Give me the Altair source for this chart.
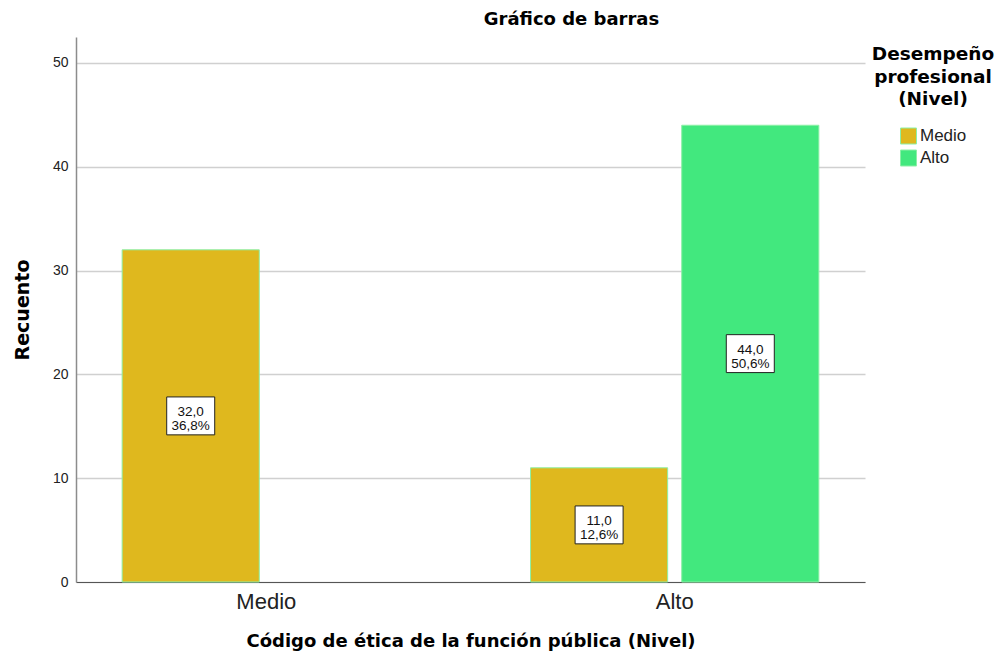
import altair as alt
import pandas as pd

# Data
codigo = ["Medio", "Alto", "Alto"]          # Código de ética de la función pública (Nivel)
desempeno = ["Medio", "Medio", "Alto"]      # Desempeño profesional (Nivel)
recuento = [32, 11, 44]
porcentaje = [36.8, 12.6, 50.6]
niveles = ["Medio", "Alto"]
colores = ["#dfb81e", "#42e87e"]
y_ticks = [0, 10, 20, 30, 40, 50]

etiquetas = [
    f"{r:.1f}".replace(".", ",") + "\n" + f"{p:.1f}".replace(".", ",") + "%"
    for r, p in zip(recuento, porcentaje)
]

df = pd.DataFrame({
    "codigo": codigo,
    "desempeno": desempeno,
    "recuento": recuento,
    "etiqueta": etiquetas,
})

BOLD = "DejaVu Sans"
REG = "Liberation Sans"

x_enc = alt.X(
    "codigo:N",
    sort=niveles,
    scale=alt.Scale(domain=niveles, paddingInner=0.294, paddingOuter=0.113),
    axis=alt.Axis(
        title="Código de ética de la función pública (Nivel)",
        labelAngle=0,
        ticks=False,
        domainColor="#555555",
        domainWidth=1,
        labelFont=REG,
        labelFontSize=22,
        labelColor="#222222",
        labelPadding=9,
        titleFont=BOLD,
        titleFontSize=18,
        titleFontWeight="bold",
        titleColor="#000000",
        titlePadding=20,
    ),
)
xo_enc = alt.XOffset(
    "desempeno:N",
    sort=niveles,
    scale=alt.Scale(domain=niveles, paddingInner=0.093, paddingOuter=0),
)

y_scale = alt.Scale(domain=[0, 52.5], nice=False)

bars = alt.Chart(df).mark_bar(stroke="#8cf0a6", strokeWidth=1).encode(
    x=x_enc,
    xOffset=xo_enc,
    y=alt.Y(
        "recuento:Q",
        scale=y_scale,
        axis=alt.Axis(
            title="Recuento",
            values=y_ticks,
            format="d",
            grid=True,
            gridColor="#d0d0d0",
            gridWidth=1.5,
            ticks=False,
            domainColor="#8c8c8c",
            domainWidth=1.5,
            labelFont=REG,
            labelFontSize=14,
            labelColor="#222222",
            labelPadding=8,
            titleFont=BOLD,
            titleFontSize=19,
            titleFontWeight="bold",
            titleColor="#000000",
            titlePadding=20,
        ),
    ),
    color=alt.Color(
        "desempeno:N",
        scale=alt.Scale(domain=niveles, range=colores),
        legend=alt.Legend(
            title=["Desempeño", "profesional", "(Nivel)"],
            orient="none",
            legendX=796,
            legendY=8,
            padding=0,
            titleFont=BOLD,
            titleFontSize=18.5,
            titleFontWeight="bold",
            titleColor="#000000",
            titleAlign="center",
            titleAnchor="middle",
            titleLineHeight=22.5,
            titlePadding=19,
            symbolType="square",
            symbolSize=256,
            symbolStrokeColor="#8cf0a6",
            symbolStrokeWidth=1,
            symbolOffset=0,
            labelFont=REG,
            labelFontSize=17,
            labelColor="#222222",
            labelOffset=3,
            rowPadding=1,
        ),
    ),
)

boxes = alt.Chart(df).transform_calculate(
    mid="datum.recuento / 2"
).mark_point(
    shape="M-1,-0.79L1,-0.79L1,0.79L-1,0.79Z",
    size=2304,
    filled=True,
    fill="white",
    stroke="#222222",
    strokeWidth=1,
    opacity=1,
).encode(
    x=alt.X("codigo:N", sort=niveles),
    xOffset=alt.XOffset("desempeno:N", sort=niveles),
    y=alt.Y("mid:Q", scale=y_scale),
)

texts = alt.Chart(df).transform_calculate(
    mid="datum.recuento / 2"
).mark_text(
    lineBreak="\n",
    font=REG,
    fontSize=13.5,
    lineHeight=14,
    baseline="middle",
    align="center",
    dy=-4,
    color="#111111",
).encode(
    x=alt.X("codigo:N", sort=niveles),
    xOffset=alt.XOffset("desempeno:N", sort=niveles),
    y=alt.Y("mid:Q", scale=y_scale),
    text="etiqueta:N",
)

chart = alt.layer(bars, boxes, texts).properties(
    width=789,
    height=545,
    padding={"left": 68, "top": 29, "right": 130, "bottom": 71},
    autosize=alt.AutoSizeParams(type="none"),
    title=alt.TitleParams(
        "Gráfico de barras",
        font=BOLD,
        fontSize=18,
        fontWeight="bold",
        color="#000000",
        anchor="middle",
        dx=101,
        offset=8,
    ),
).configure_view(stroke=None)

chart.save("out.html", embed_options={"renderer": "svg", "actions": False})
